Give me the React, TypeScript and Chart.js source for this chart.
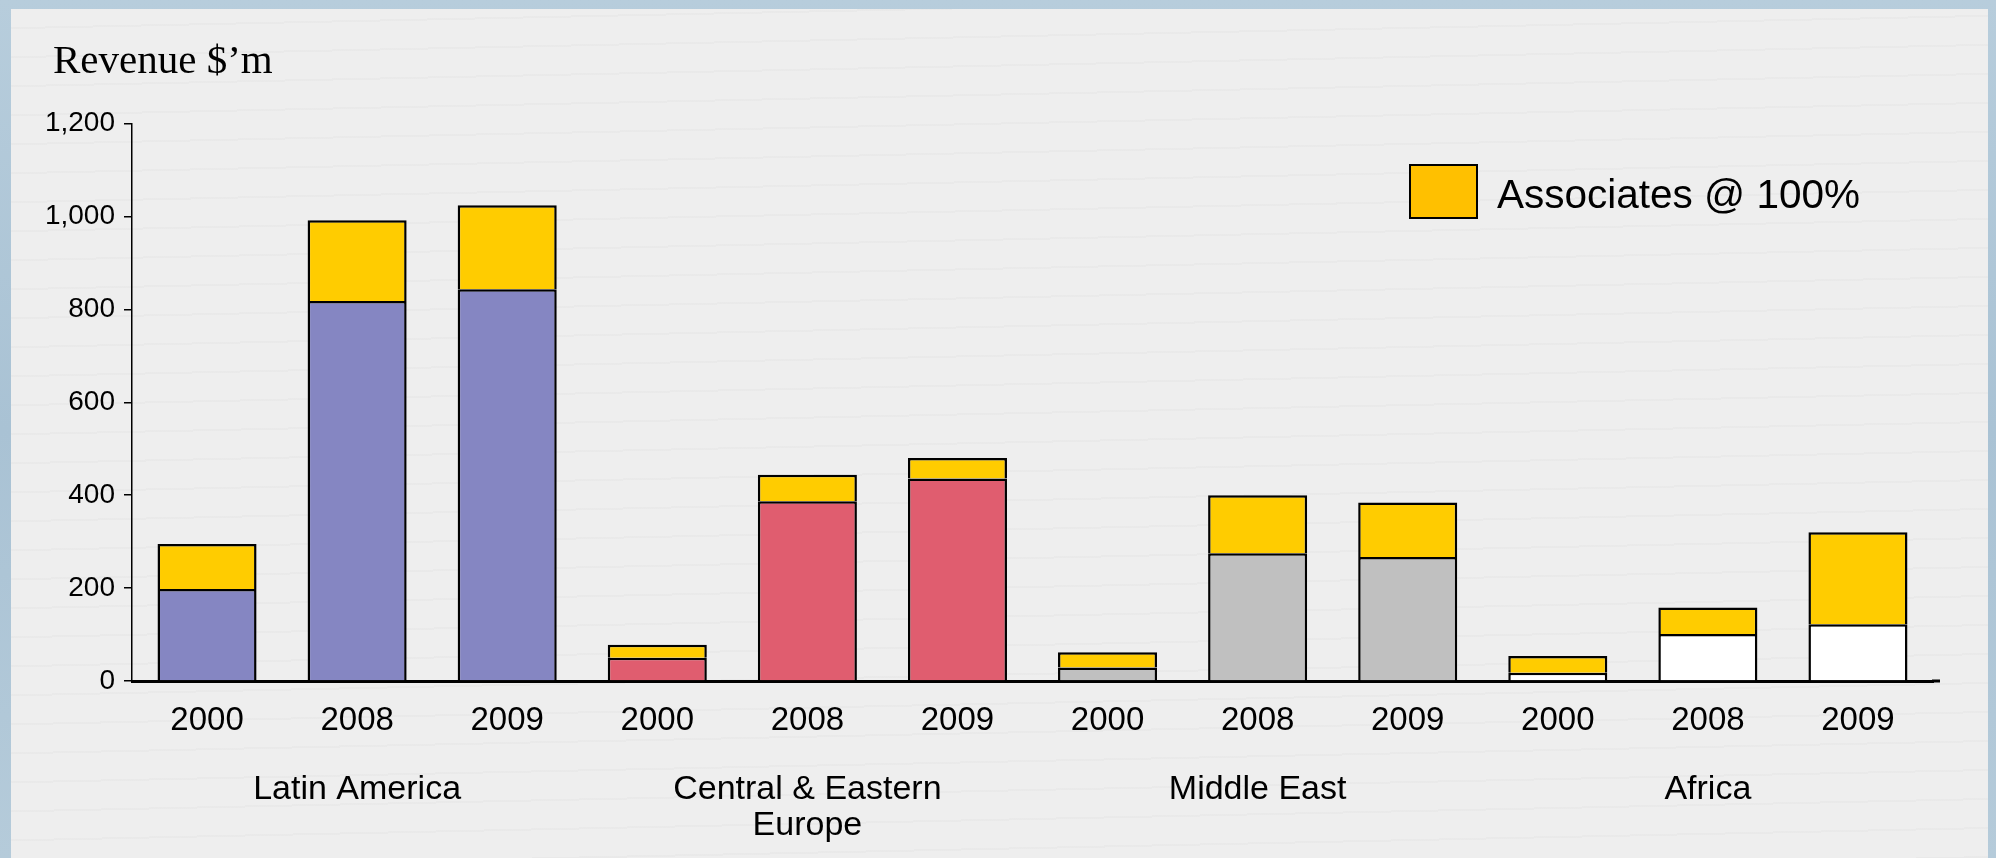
import React, { useEffect, useRef } from "react";
import { Chart, registerables } from "chart.js";

Chart.register(...registerables);

// ---- data ----
const yearLabels = ["2000", "2008", "2009", "2000", "2008", "2009", "2000", "2008", "2009", "2000", "2008", "2009"];
const regionLabels: (string | string[])[] = ["", "Latin America", "", "", ["Central & Eastern", "Europe"], "", "", "Middle East", "", "", "Africa", ""];
const subsidiaryRevenue = [198, 818, 843, 50, 387, 436, 29, 275, 267, 18, 101, 122];
const associatesRevenue = [97, 174, 181, 28, 57, 44, 33, 125, 117, 36, 57, 198];
const yMin = 0;
const yMax = 1200;
const yStep = 200;
const titleText = "Revenue $\u2019m";
const legendText = "Associates @ 100%";

// ---- styles ----
const regionColors = [
  "#8586C2", "#8586C2", "#8586C2",
  "#E05D6F", "#E05D6F", "#E05D6F",
  "#C0C0C0", "#C0C0C0", "#C0C0C0",
  "#FFFFFF", "#FFFFFF", "#FFFFFF",
];
const associatesColor = "#FFCC00";
const legendSwatchColor = "#FFC000";
const SANS = "'Liberation Sans', Arial, Helvetica, sans-serif";
const SERIF = "'Liberation Serif', 'Times New Roman', serif";

// extends the x axis line a little past the plot area, as in the original
const axisExtension = {
  id: "axisExtension",
  afterDraw(chart: any) {
    const xs = chart.scales.x;
    if (!xs) return;
    const ctx = chart.ctx;
    ctx.save();
    ctx.strokeStyle = "#000000";
    ctx.lineWidth = 3;
    ctx.beginPath();
    ctx.moveTo(xs.right - 1, xs.top);
    ctx.lineTo(xs.right + 7, xs.top);
    ctx.stroke();
    ctx.restore();
  },
};

export default function App() {
  const canvasRef = useRef<HTMLCanvasElement | null>(null);

  useEffect(() => {
    const canvas = canvasRef.current;
    if (!canvas) return;
    Chart.defaults.font.family = SANS;
    const chart = new Chart(canvas, {
      type: "bar",
      data: {
        labels: yearLabels,
        datasets: [
          {
            label: "Subsidiaries",
            data: subsidiaryRevenue,
            backgroundColor: regionColors,
            borderColor: "#000000",
            borderWidth: 2.5,
            borderSkipped: "bottom",
            barPercentage: 0.66,
            categoryPercentage: 1,
            stack: "s",
          },
          {
            label: legendText,
            data: associatesRevenue,
            backgroundColor: associatesColor,
            borderColor: "#000000",
            borderWidth: 2.5,
            borderSkipped: "bottom",
            barPercentage: 0.66,
            categoryPercentage: 1,
            stack: "s",
          },
        ],
      },
      options: {
        animation: false,
        responsive: true,
        maintainAspectRatio: false,
        layout: { padding: { left: 0, right: 63, top: 123.5, bottom: 7 } },
        plugins: {
          legend: { display: false },
          tooltip: { enabled: false },
          title: { display: false },
        },
        scales: {
          x: {
            type: "category",
            stacked: true,
            offset: true,
            grid: { display: true, drawOnChartArea: false, drawTicks: false, color: "rgba(0,0,0,0)", offset: true },
            border: { display: true, color: "#000000", width: 3 },
            ticks: {
              color: "#000000",
              font: { family: SANS, size: 33, lineHeight: 1.2 },
              padding: 20,
              autoSkip: false,
              maxRotation: 0,
              minRotation: 0,
            },
            afterFit: (s: any) => {
              s.height = 72;
            },
          },
          x2: {
            type: "category",
            labels: regionLabels as any,
            position: "bottom",
            weight: 1,
            offset: true,
            grid: { display: false, drawTicks: false, drawOnChartArea: false, offset: true },
            border: { display: false },
            ticks: {
              color: "#000000",
              font: { family: SANS, size: 34, lineHeight: 1.07 },
              padding: 18,
              autoSkip: false,
              maxRotation: 0,
              minRotation: 0,
            },
            afterFit: (s: any) => {
              s.height = 98;
            },
          },
          y: {
            stacked: true,
            min: yMin,
            max: yMax,
            ticks: {
              stepSize: yStep,
              color: "#000000",
              font: { family: SANS, size: 28 },
              padding: 9,
            },
            grid: { drawOnChartArea: false, drawTicks: true, tickLength: 8, color: "#000000", lineWidth: 1.5 },
            border: { display: true, color: "#000000", width: 1.5 },
            afterFit: (s: any) => {
              s.width = 132;
            },
          },
        },
      },
      plugins: [axisExtension],
    });
    return () => {
      chart.destroy();
    };
  }, []);

  return (
    <div
      style={{
        position: "fixed",
        left: 0,
        top: 0,
        width: 1996,
        height: 858,
        overflow: "hidden",
        background: "linear-gradient(180deg, #b7cddc 0%, #a9c2d4 50%, #b5cbda 100%)",
      }}
    >
      <div
        style={{
          position: "absolute",
          left: 11,
          top: 9,
          width: 1988 - 11,
          height: 858 - 9,
          background:
            "repeating-linear-gradient(-1.2deg, rgba(0,0,0,0.018) 0px, rgba(0,0,0,0.018) 2px, rgba(0,0,0,0) 2px, rgba(0,0,0,0) 29px), #eeeeee",
        }}
      />
      <div style={{ position: "absolute", left: 0, top: 0, width: 1996, height: 858 }}>
        <canvas ref={canvasRef} />
      </div>
      <div
        style={{
          position: "absolute",
          left: 53,
          top: 39,
          fontFamily: SERIF,
          fontSize: 41,
          lineHeight: "41px",
          color: "#000",
          whiteSpace: "nowrap",
        }}
      >
        {titleText}
      </div>
      <div
        style={{
          position: "absolute",
          left: 1409,
          top: 164,
          width: 69,
          height: 55,
          boxSizing: "border-box",
          background: legendSwatchColor,
          border: "2.5px solid #000",
        }}
      />
      <div
        style={{
          position: "absolute",
          left: 1497,
          top: 174,
          fontFamily: SANS,
          fontSize: 40.5,
          lineHeight: "40px",
          color: "#000",
          whiteSpace: "nowrap",
        }}
      >
        {legendText}
      </div>
    </div>
  );
}
